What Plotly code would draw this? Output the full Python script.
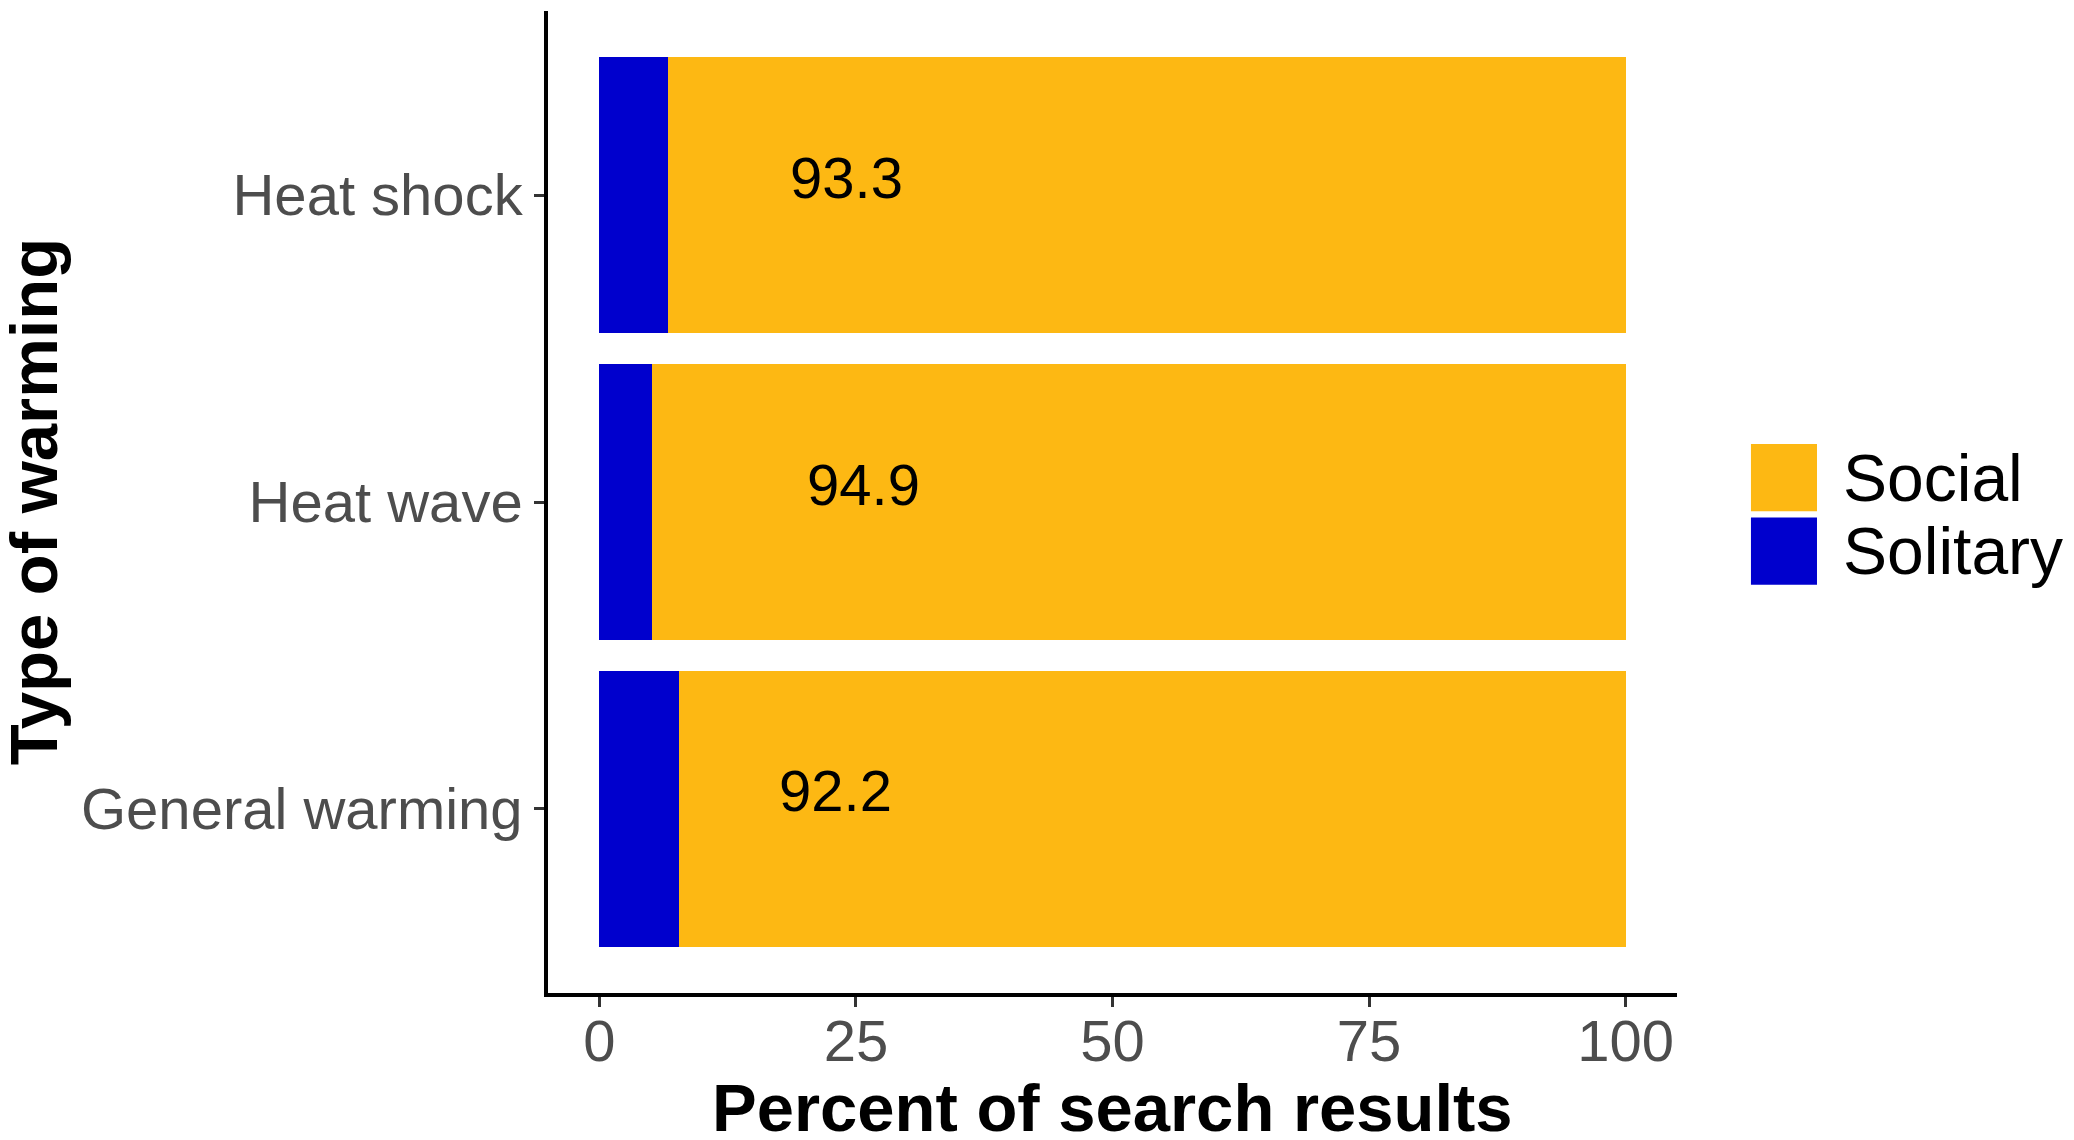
import plotly.graph_objects as go

categories = ["General warming", "Heat wave", "Heat shock"]
solitary = [7.8, 5.1, 6.7]
social = [92.2, 94.9, 93.3]
label_text = ["92.2", "94.9", "93.3"]
label_x = [23.0, 25.7, 24.1]
x_ticks = [0, 25, 50, 75, 100]
series_names = ["Social", "Solitary"]
series_colors = {"Social": "#FDB813", "Solitary": "#0000CD"}

FONT = "Liberation Sans, Arial, Helvetica, sans-serif"

fig = go.Figure()
fig.add_trace(go.Bar(y=categories, x=solitary, orientation="h", name="Solitary",
                     marker=dict(color=series_colors["Solitary"], line=dict(width=0)),
                     width=0.9, showlegend=False))
fig.add_trace(go.Bar(y=categories, x=social, orientation="h", name="Social",
                     marker=dict(color=series_colors["Social"], line=dict(width=0)),
                     width=0.9, showlegend=False))

annotations = []
for c, t, lx in zip(categories, label_text, label_x):
    annotations.append(dict(x=lx, y=c, xref="x", yref="y", text=t, showarrow=False,
                            yshift=18, font=dict(family=FONT, size=58, color="black")))

# axis titles
annotations.append(dict(x=0.5, y=-0.117, xref="paper", yref="paper", text="<b>Percent of search results</b>",
                        showarrow=False, xanchor="center", yanchor="middle",
                        font=dict(family=FONT, size=67, color="black")))
annotations.append(dict(x=-0.456, y=0.5, xref="paper", yref="paper", text="<b>Type of warming</b>",
                        showarrow=False, xanchor="center", yanchor="middle", textangle=-90,
                        font=dict(family=FONT, size=67, color="black")))

# legend (drawn manually for large keys)
shapes = []
key_top = 0.559
key_h = 0.0685
key_gap = 0.0062
for i, name in enumerate(series_names):
    y1 = key_top - i * (key_h + key_gap)
    y0 = y1 - key_h
    shapes.append(dict(type="rect", xref="paper", yref="paper", x0=1.0655, x1=1.124,
                       y0=y0, y1=y1, fillcolor=series_colors[name], line=dict(width=0)))
    annotations.append(dict(x=1.1453, y=(y0 + y1) / 2, xref="paper", yref="paper", text=name,
                            showarrow=False, xanchor="left", yanchor="middle",
                            font=dict(family=FONT, size=66, color="black")))

fig.update_layout(
    barmode="stack",
    width=2058, height=1124,
    margin=dict(l=540, r=389, t=3, b=139),
    plot_bgcolor="white", paper_bgcolor="white",
    annotations=annotations, shapes=shapes,
    showlegend=False,
    font=dict(family=FONT),
)
fig.update_xaxes(range=[-5, 105], tickvals=x_ticks, ticktext=[str(v) for v in x_ticks],
                 showgrid=False, zeroline=False, showline=True, linecolor="black", linewidth=3.5,
                 ticks="outside", ticklen=10, tickwidth=3, tickcolor="#333333",
                 tickfont=dict(family=FONT, size=58, color="#4D4D4D"), ticklabelstandoff=-15)
fig.update_yaxes(categoryorder="array", categoryarray=categories, range=[-0.6, 2.6],
                 showgrid=False, zeroline=False, showline=True, linecolor="black", linewidth=3.5,
                 ticks="outside", ticklen=10, tickwidth=3, tickcolor="#333333",
                 tickfont=dict(family=FONT, size=58, color="#4D4D4D"), ticklabelstandoff=0)

fig.write_html("out.html")
